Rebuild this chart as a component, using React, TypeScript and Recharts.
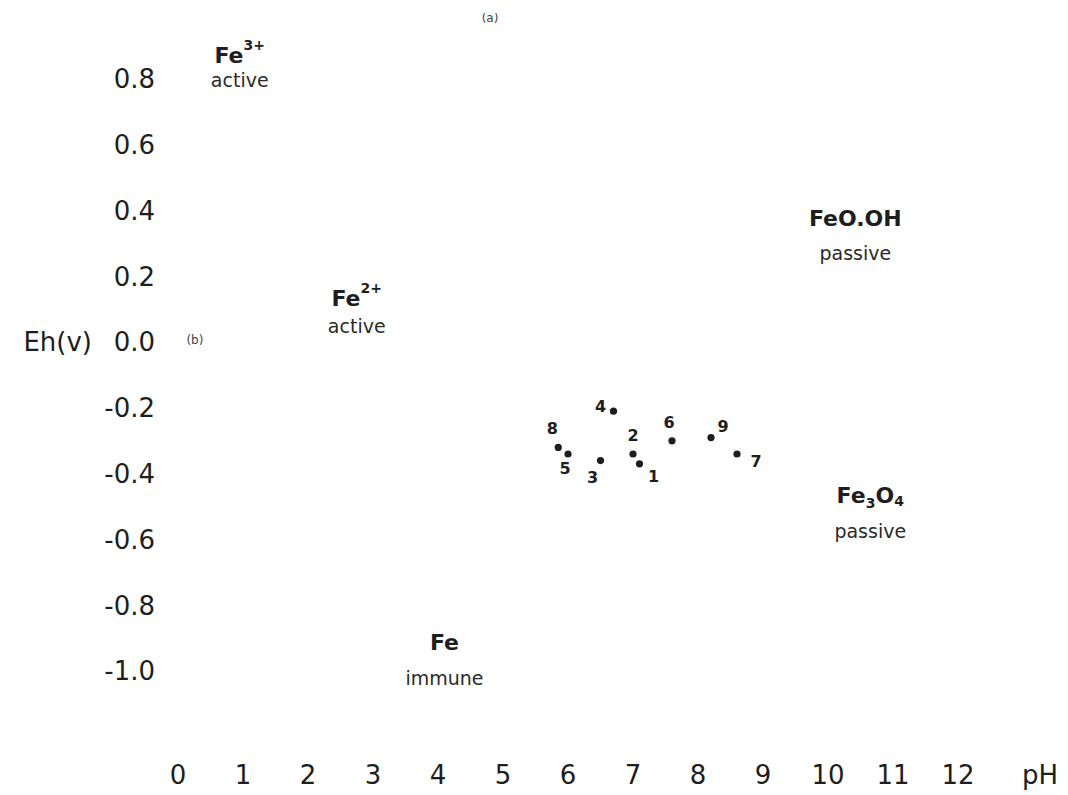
import React from 'react';
import { ScatterChart, Scatter, XAxis, YAxis, ReferenceLine } from 'recharts';

// ---- data ----
const PH_TICKS = [0, 1, 2, 3, 4, 5, 6, 7, 8, 9, 10, 11, 12];
const EH_TICKS = [-1.0, -0.8, -0.6, -0.4, -0.2, 0.0, 0.2, 0.4, 0.6, 0.8];

const SAMPLE_IDS = ['1', '2', '3', '4', '5', '6', '7', '8', '9'];
const SAMPLE_PH = [7.1, 7.0, 6.5, 6.7, 6.0, 7.6, 8.6, 5.85, 8.2];
const SAMPLE_EH = [-0.37, -0.34, -0.36, -0.21, -0.34, -0.3, -0.34, -0.32, -0.29];

const REGION_TITLES = ['Fe3+', 'Fe2+', 'FeO.OH', 'Fe3O4', 'Fe'];
const REGION_STATES = ['active', 'active', 'passive', 'passive', 'immune'];
const REGION_PH = [0.95, 2.75, 10.42, 10.65, 4.1];
const REGION_EH = [0.872, 0.134, 0.377, -0.465, -0.912];

const PANEL_TAGS = ['(a)', '(b)'];
const PANEL_PH = [4.8, 0.26];
const PANEL_EH = [0.985, 0.006];

// ---- styling (pixel offsets for labels) ----
const SAMPLE_LABEL_OFFSET: Record<string, [number, number]> = {
  '1': [14, 13],
  '2': [0, -18],
  '3': [-8, 17],
  '4': [-13, -5],
  '5': [-3, 15],
  '6': [-3, -18],
  '7': [19, 8],
  '8': [-6, -19],
  '9': [12, -11],
};
const REGION_SUB_GAP = [25, 28, 35, 36, 36];

const INK = '#1e1e1e';
const FONT = '"DejaVu Sans", "Liberation Sans", Arial, sans-serif';

const samples = SAMPLE_IDS.map((id, i) => ({ id, ph: SAMPLE_PH[i], eh: SAMPLE_EH[i] }));
const regions = REGION_TITLES.map((t, i) => ({
  title: t,
  state: REGION_STATES[i],
  gap: REGION_SUB_GAP[i],
  ph: REGION_PH[i],
  eh: REGION_EH[i],
}));
const panels = PANEL_TAGS.map((t, i) => ({ tag: t, ph: PANEL_PH[i], eh: PANEL_EH[i] }));

function renderTitle(title: string) {
  const small = 14;
  if (title === 'Fe3+' || title === 'Fe2+') {
    return [
      <tspan key="a">Fe</tspan>,
      <tspan key="b" dy={-10} fontSize={small}>
        {title.slice(2)}
      </tspan>,
    ];
  }
  if (title === 'Fe3O4') {
    return [
      <tspan key="a">Fe</tspan>,
      <tspan key="b" dy={8} fontSize={small}>3</tspan>,
      <tspan key="c" dy={-8}>O</tspan>,
      <tspan key="d" dy={6} fontSize={small}>4</tspan>,
    ];
  }
  return title;
}

const SampleShape = (props: any) => {
  const { cx, cy, payload } = props;
  const off = SAMPLE_LABEL_OFFSET[payload.id] || [8, -8];
  return (
    <g>
      <circle cx={cx} cy={cy} r={3.6} fill={INK} />
      <text
        x={cx + off[0]}
        y={cy + off[1]}
        textAnchor="middle"
        dominantBaseline="central"
        fontFamily={FONT}
        fontWeight="bold"
        fontSize={16}
        fill={INK}
      >
        {payload.id}
      </text>
    </g>
  );
};

const RegionShape = (props: any) => {
  const { cx, cy, payload } = props;
  return (
    <g>
      <text
        x={cx}
        y={cy}
        textAnchor="middle"
        dominantBaseline="central"
        fontFamily={FONT}
        fontWeight="bold"
        fontSize={22}
        fill={INK}
      >
        {renderTitle(payload.title)}
      </text>
      <text
        x={cx}
        y={cy + payload.gap}
        textAnchor="middle"
        dominantBaseline="central"
        fontFamily={FONT}
        fontSize={19}
        fill="#2a2a2a"
      >
        {payload.state}
      </text>
    </g>
  );
};

const PanelShape = (props: any) => {
  const { cx, cy, payload } = props;
  return (
    <text
      x={cx}
      y={cy}
      textAnchor="middle"
      dominantBaseline="central"
      fontFamily={FONT}
      fontSize={12}
      fill="#444"
    >
      {payload.tag}
    </text>
  );
};

const PhLabel = (props: any) => {
  const vb = props.viewBox || {};
  return (
    <text
      x={vb.x + vb.width + 82}
      y={vb.y + 38}
      textAnchor="middle"
      dominantBaseline="central"
      fontFamily={FONT}
      fontSize={26}
      fill={INK}
    >
      pH
    </text>
  );
};

export default function App() {
  return (
    <div style={{ width: 1060, height: 787, background: '#fff' }}>
      <ScatterChart width={1060} height={787} margin={{ top: 5, right: 110, bottom: 0, left: 0 }}>
        <XAxis
          type="number"
          dataKey="ph"
          domain={[0, 12]}
          ticks={PH_TICKS}
          axisLine={false}
          tickLine={false}
          tickSize={0}
          tickMargin={29}
          height={58}
          tick={{ fontFamily: FONT, fontSize: 26, fill: INK }}
          label={<PhLabel />}
          allowDataOverflow
        />
        <YAxis
          type="number"
          dataKey="eh"
          domain={[-1.2, 1.0]}
          ticks={EH_TICKS}
          tickFormatter={(v: number) => v.toFixed(1)}
          axisLine={false}
          tickLine={false}
          tickSize={0}
          tickMargin={23}
          width={170}
          tick={{ fontFamily: FONT, fontSize: 26, fill: INK }}
          allowDataOverflow
        />
        <ReferenceLine
          y={0}
          stroke="none"
          label={{
            value: 'Eh(v)',
            position: 'left',
            offset: 86,
            fontFamily: FONT,
            fontSize: 26,
            fill: INK,
          }}
        />
        <Scatter data={regions} shape={RegionShape} isAnimationActive={false} />
        <Scatter data={panels} shape={PanelShape} isAnimationActive={false} />
        <Scatter data={samples} shape={SampleShape} isAnimationActive={false} />
      </ScatterChart>
    </div>
  );
}
